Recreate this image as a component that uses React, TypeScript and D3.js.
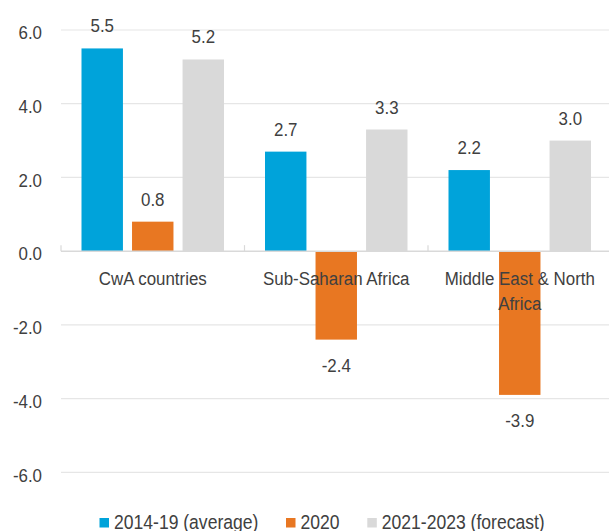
import React from "react";
import * as d3 from "d3";

const categories = ["CwA countries", "Sub-Saharan Africa", "Middle East & North Africa"];
const categoryLines = [["CwA countries"], ["Sub-Saharan Africa"], ["Middle East & North", "Africa"]];
const seriesNames = ["2014-19 (average)", "2020", "2021-2023 (forecast)"];
const avg2014_19 = [5.5, 2.7, 2.2];
const y2020 = [0.8, -2.4, -3.9];
const forecast2021_23 = [5.2, 3.3, 3.0];
const yTicks = [-6, -4, -2, 0, 2, 4, 6];

const colors = ["#00A3DA", "#E87722", "#D9D9D9"];
const FONT = "'Liberation Sans', Arial, sans-serif";
const TEXT = "#404040";
const SX = 0.89;
const FS = 19;

function T({ x, y, anchor = "start", fs = FS, sx = SX, children }: { x: number; y: number; anchor?: string; fs?: number; sx?: number; children: React.ReactNode }) {
  return (
    <g transform={`translate(${x},${y}) scale(${sx},1)`}>
      <text x={0} y={0} textAnchor={anchor} fontSize={fs} fill={TEXT}>
        {children}
      </text>
    </g>
  );
}

export default function App() {
  const W = 609, H = 531;
  const series = [avg2014_19, y2020, forecast2021_23];
  const x = d3.scaleBand<string>().domain(categories).range([61, 611.5]).paddingInner(0).paddingOuter(0);
  const inner = d3.scaleBand<number>().domain([0, 1, 2]).range([20.5, x.bandwidth() - 20.5]).paddingInner(0.18).paddingOuter(0);
  const y = d3.scaleLinear().domain([-6, 6]).range([472.3, 30]);
  const legendX = [99.5, 286, 367.3];

  return (
    <svg width={W} height={H} style={{ position: "absolute", left: 0, top: 0 }} fontFamily={FONT}>
      <rect width={W} height={H} fill="#fff" />
      {yTicks.filter((t) => t !== 0).map((t) => (
        <line key={t} x1={61} x2={W} y1={y(t)} y2={y(t)} stroke="#E6E6E6" strokeWidth={1.2} />
      ))}
      {yTicks.map((t) => (
        <T key={"l" + t} x={42} y={y(t) + 9.3} anchor="end">{t.toFixed(1)}</T>
      ))}
      {series.map((vals, si) =>
        vals.map((v, ci) => {
          const cx = (x(categories[ci]) as number) + (inner(si) as number);
          const y0 = y(0), yv = y(v);
          return (
            <rect key={si + "-" + ci} x={cx} width={inner.bandwidth()} y={Math.min(y0, yv)} height={Math.abs(yv - y0)} fill={colors[si]} />
          );
        })
      )}
      <line x1={61} x2={W} y1={y(0)} y2={y(0)} stroke="#D9D9D9" strokeWidth={1.5} />
      {categories.map((c) => (
        <line key={"t" + c} x1={x(c)} x2={x(c)} y1={y(0) - 6} y2={y(0)} stroke="#D9D9D9" strokeWidth={1.2} />
      ))}
      {series.map((vals, si) =>
        vals.map((v, ci) => {
          const cx = (x(categories[ci]) as number) + (inner(si) as number) + inner.bandwidth() / 2;
          const ty = v >= 0 ? y(v) - 16 : y(v) + 32;
          return (
            <T key={"v" + si + "-" + ci} x={cx} y={ty} anchor="middle">{v.toFixed(1)}</T>
          );
        })
      )}
      {categories.map((c, ci) =>
        categoryLines[ci].map((ln, li) => (
          <T key={"c" + ci + "-" + li} x={(x(c) as number) + x.bandwidth() / 2} y={285 + li * 25} anchor="middle">{ln}</T>
        ))
      )}
      {seriesNames.map((n, i) => (
        <g key={"lg" + i}>
          <rect x={legendX[i]} y={518} width={9.5} height={9.5} fill={colors[i]} />
          <T x={legendX[i] + 14.5} y={528.5} fs={19.5} sx={0.9}>{n}</T>
        </g>
      ))}
    </svg>
  );
}
